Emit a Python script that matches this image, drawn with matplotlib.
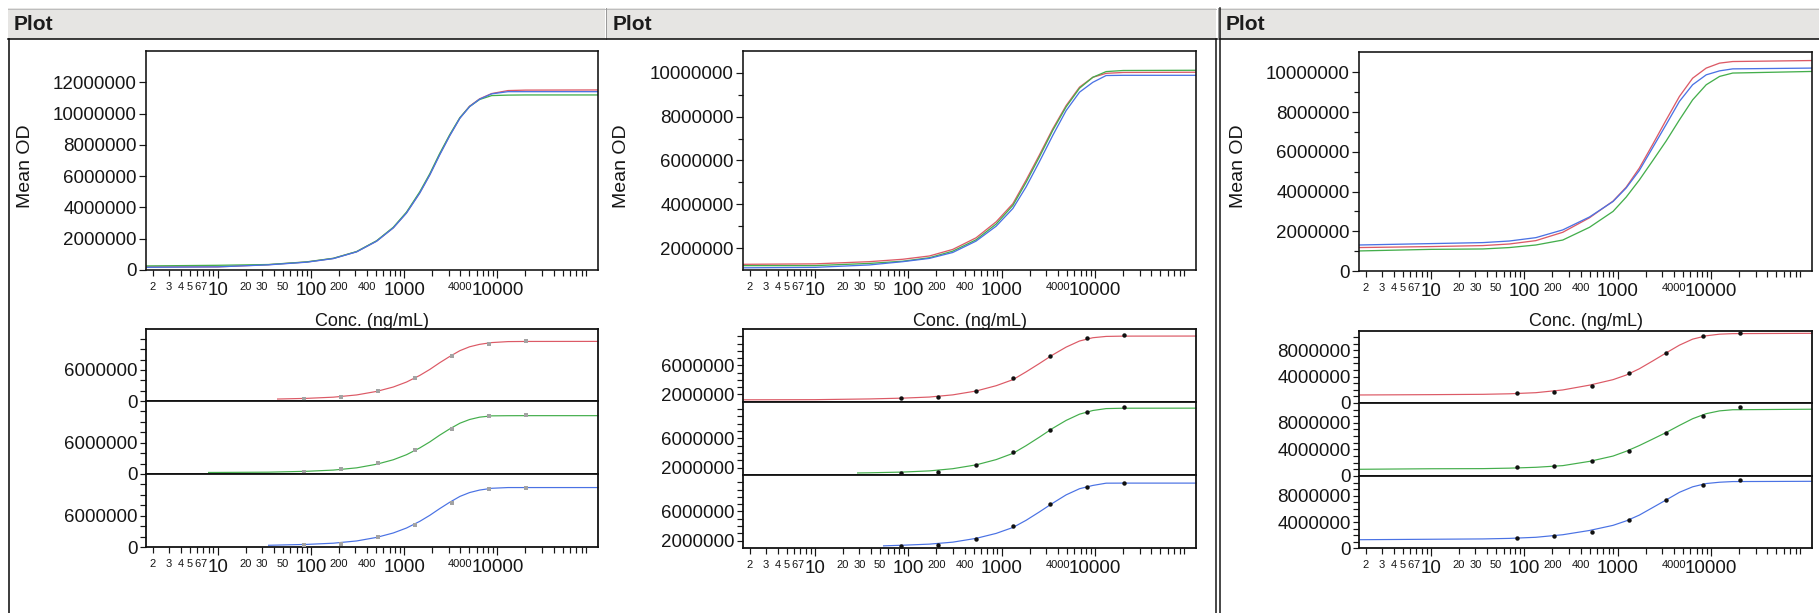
import numpy as np
import matplotlib
matplotlib.use("Agg")
import matplotlib.pyplot as plt
from matplotlib.patches import Rectangle
from matplotlib.lines import Line2D
from matplotlib.ticker import FixedLocator, FuncFormatter

plt.rcParams['font.family'] = ['Liberation Sans', 'DejaVu Sans']

MILLION = 1e6

# ---------------- data (Mean OD in millions, conc in ng/mL) ----------------
STD_CONC = [83.9, 209.7, 524.3, 1310.7, 3276.8, 8192.0, 20480.0]

# Panel 1
P1_CURVE_X = [1.7, 10, 35, 90, 174, 309, 506, 764, 1059, 1470, 1885, 2400, 3080,
              3960, 5030, 6440, 8680, 13000, 20000, 120000]
P1_RED_CURVE = [0.20, 0.20, 0.34, 0.51, 0.74, 1.17, 1.85, 2.70, 3.66, 4.94, 6.10, 7.38,
                8.60, 9.72, 10.47, 10.94, 11.28, 11.47, 11.50, 11.51]
P1_GREEN_CURVE = [0.26, 0.30, 0.35, 0.52, 0.75, 1.18, 1.87, 2.73, 3.70, 5.00, 6.16, 7.44,
                  8.65, 9.74, 10.45, 10.90, 11.15, 11.18, 11.19, 11.19]
P1_BLUE_CURVE = [0.17, 0.20, 0.33, 0.50, 0.73, 1.16, 1.84, 2.69, 3.64, 4.92, 6.08, 7.35,
                 8.58, 9.70, 10.44, 10.92, 11.26, 11.40, 11.40, 11.40]
P1_RED_POINTS = [0.40, 0.80, 1.90, 4.50, 8.60, 11.10, 11.60]
P1_GREEN_POINTS = [0.45, 0.90, 2.10, 4.55, 8.70, 11.05, 11.25]
P1_BLUE_POINTS = [0.35, 0.65, 1.85, 4.30, 8.40, 11.10, 11.40]
P1_SUB_START = [43, 7.9, 35]

# Panel 2
P2_CURVE_X = [1.7, 10, 38, 87, 168, 299, 531, 871, 1316, 1820, 2520, 3520, 4890, 6800,
              9440, 13100, 20000, 120000]
P2_RED_CURVE = [1.26, 1.28, 1.38, 1.49, 1.64, 1.94, 2.47, 3.20, 4.03, 5.10, 6.24, 7.45,
                8.51, 9.35, 9.80, 9.98, 10.02, 10.03]
P2_GREEN_CURVE = [1.20, 1.20, 1.30, 1.40, 1.56, 1.86, 2.38, 3.10, 3.95, 5.00, 6.15, 7.38,
                  8.45, 9.30, 9.80, 10.06, 10.11, 10.12]
P2_BLUE_CURVE = [1.10, 1.12, 1.23, 1.38, 1.53, 1.80, 2.32, 3.00, 3.81, 4.79, 5.93, 7.15,
                 8.28, 9.12, 9.57, 9.88, 9.89, 9.89]
P2_RED_POINTS = [1.51, 1.69, 2.47, 4.32, 7.31, 9.76, 10.17]
P2_GREEN_POINTS = [1.32, 1.46, 2.34, 4.09, 7.13, 9.57, 10.22]
P2_BLUE_POINTS = [1.28, 1.46, 2.29, 4.04, 7.04, 9.29, 9.89]
P2_SUB_START = [1.7, 28, 53]

# Panel 3
P3_CURVE_X = [1.7, 10, 36, 69, 133, 258, 498, 890, 1230, 1700, 2370, 3300, 4570, 6330,
              8850, 12300, 17000, 120000]
P3_RED_CURVE = [1.18, 1.23, 1.28, 1.36, 1.53, 1.95, 2.68, 3.52, 4.22, 5.18, 6.38, 7.61,
                8.79, 9.71, 10.22, 10.47, 10.55, 10.60]
P3_GREEN_CURVE = [1.01, 1.09, 1.11, 1.18, 1.31, 1.56, 2.20, 3.00, 3.72, 4.58, 5.56, 6.55,
                  7.61, 8.62, 9.38, 9.80, 9.97, 10.05]
P3_BLUE_CURVE = [1.31, 1.38, 1.43, 1.51, 1.68, 2.07, 2.72, 3.50, 4.18, 5.06, 6.22, 7.38,
                 8.54, 9.38, 9.88, 10.08, 10.18, 10.22]
P3_RED_POINTS = [1.47, 1.67, 2.58, 4.55, 7.64, 10.12, 10.58]
P3_GREEN_POINTS = [1.32, 1.52, 2.23, 3.74, 6.53, 9.06, 10.32]
P3_BLUE_POINTS = [1.62, 1.87, 2.53, 4.30, 7.39, 9.62, 10.37]
P3_SUB_START = [1.7, 1.7, 1.7]

# axis ticks / labels
X_DECADE_TICKS = [10, 100, 1000, 10000]
X_SMALL_LABELS = [2, 3, 4, 5, 6, 7, 20, 30, 50, 200, 400, 4000]
X_MINOR_TICKS = [m * 10 ** e for e in range(0, 5) for m in range(2, 10)]

P1_YLIM = (0, 14.0)
P2_YLIM = (1.0, 11.0)
P3_YLIM = (0, 11.03)
P1_Y_MAJOR = [0, 2, 4, 6, 8, 10, 12]
P1_Y_MINOR = []
P2_Y_MAJOR = [2, 4, 6, 8, 10]
P2_Y_MINOR = [3, 5, 7, 9]
P3_Y_MAJOR = [0, 2, 4, 6, 8, 10]
P3_Y_MINOR = [1, 3, 5, 7, 9]
P1_SUB_TICKS = [0, 2, 4, 6, 8, 10, 12]
P1_SUB_LABELED = [0, 6]
P2_SUB_TICKS = [2, 3, 4, 5, 6, 7, 8, 9, 10]
P2_SUB_LABELED = [2, 6]
P3_SUB_TICKS = [0, 1, 2, 3, 4, 5, 6, 7, 8, 9, 10]
P3_SUB_LABELED = [0, 4, 8]

HEADER_TITLE = "Plot"
Y_LABEL = "Mean OD"
X_LABEL = "Conc. (ng/mL)"

# ---------------- style / layout ----------------
W, H = 1819, 613
XLIM = (1.7, 1.2e5)
COLORS = ['#DC5A66', '#44AE4C', '#4A72E4']
TXT = '#161616'
PX = 0.72  # points per pixel at 100 dpi
TICK_FS = 13.5

fig = plt.figure(figsize=(W / 100, H / 100), dpi=100)
fig.patch.set_facecolor('white')


def fx(x):
    return x / W


def fy(y):
    return 1 - y / H


def add_rect(x0, y0, x1, y1, **kw):
    fig.patches.append(Rectangle((fx(x0), fy(y1)), (x1 - x0) / W, (y1 - y0) / H,
                                 transform=fig.transFigure, **kw))


def add_line(xs, ys, **kw):
    fig.add_artist(Line2D([fx(x) for x in xs], [fy(y) for y in ys],
                          transform=fig.transFigure, **kw))


def px_axes(x0, y0, x1, y1):
    return fig.add_axes([fx(x0), fy(y1), (x1 - x0) / W, (y1 - y0) / H])


# headers and frames
HEADERS = [(8, 605), (606.5, 1216), (1220, 1819)]
for (hx0, hx1) in HEADERS:
    add_rect(hx0, 8, hx1, 38.5, facecolor='#E6E5E3', edgecolor='none', zorder=-5)
    add_line([hx0, hx1], [8.5, 8.5], color='#BDBDBD', lw=1 * PX, zorder=-4)
    fig.text(fx(hx0 + 6), fy(24), HEADER_TITLE, fontsize=15, fontweight='bold',
             color='#1c1c1c', ha='left', va='center')
add_line([605.5, 605.5], [8, 38.5], color='#9A9A9A', lw=1 * PX)
add_line([1217.5, 1217.5], [8, 38.5], color='#9A9A9A', lw=1 * PX)
add_line([8, 1216.5], [39.3, 39.3], color='#111111', lw=1.6 * PX)
add_line([1219.5, 1819], [39.3, 39.3], color='#111111', lw=1.6 * PX)
add_line([8.7, 8.7], [39, 613], color='#111111', lw=1.6 * PX)
add_line([1216, 1216], [39, 613], color='#111111', lw=1.5 * PX)
add_line([1219.5, 1219.5], [8, 613], color='#111111', lw=1.5 * PX)

PANELS = [
    dict(top=(146, 51, 598, 270),
         subs=[(146, 328.5, 598, 401), (146, 401, 598, 474), (146, 474, 598, 547)],
         ylab_x=25, ylim=P1_YLIM, ymaj=P1_Y_MAJOR, ymin=P1_Y_MINOR,
         sticks=P1_SUB_TICKS, slab=P1_SUB_LABELED,
         cx=P1_CURVE_X, curves=[P1_RED_CURVE, P1_GREEN_CURVE, P1_BLUE_CURVE],
         pts=[P1_RED_POINTS, P1_GREEN_POINTS, P1_BLUE_POINTS], start=P1_SUB_START,
         mk=dict(marker='s', ms=2.6, color='#A3A3A3')),
    dict(top=(743, 51, 1196, 270),
         subs=[(743, 329, 1196, 401.7), (743, 401.7, 1196, 475), (743, 475, 1196, 548)],
         ylab_x=621, ylim=P2_YLIM, ymaj=P2_Y_MAJOR, ymin=P2_Y_MINOR,
         sticks=P2_SUB_TICKS, slab=P2_SUB_LABELED,
         cx=P2_CURVE_X, curves=[P2_RED_CURVE, P2_GREEN_CURVE, P2_BLUE_CURVE],
         pts=[P2_RED_POINTS, P2_GREEN_POINTS, P2_BLUE_POINTS], start=P2_SUB_START,
         mk=dict(marker='o', ms=3.2, color='#111111')),
    dict(top=(1359, 52, 1812, 271),
         subs=[(1359, 330.5, 1812, 402.7), (1359, 402.7, 1812, 476), (1359, 476, 1812, 548.3)],
         ylab_x=1238, ylim=P3_YLIM, ymaj=P3_Y_MAJOR, ymin=P3_Y_MINOR,
         sticks=P3_SUB_TICKS, slab=P3_SUB_LABELED,
         cx=P3_CURVE_X, curves=[P3_RED_CURVE, P3_GREEN_CURVE, P3_BLUE_CURVE],
         pts=[P3_RED_POINTS, P3_GREEN_POINTS, P3_BLUE_POINTS], start=P3_SUB_START,
         mk=dict(marker='o', ms=3.2, color='#111111')),
]


def style_x(ax, show):
    ax.set_xscale('log')
    ax.set_xlim(*XLIM)
    ax.xaxis.set_major_locator(FixedLocator(X_DECADE_TICKS))
    ax.xaxis.set_minor_locator(FixedLocator(X_MINOR_TICKS))
    if show:
        ax.xaxis.set_major_formatter(FuncFormatter(lambda v, p: f"{v:.0f}"))
        ax.xaxis.set_minor_formatter(FuncFormatter(
            lambda v, p: f"{v:.0f}" if int(round(v)) in X_SMALL_LABELS else ""))
        ax.tick_params(axis='x', which='major', length=8 * PX, width=1.2 * PX,
                       labelsize=TICK_FS, pad=4 * PX, direction='out', colors=TXT)
        ax.tick_params(axis='x', which='minor', length=5.5 * PX, width=1.2 * PX,
                       labelsize=8, pad=6.5 * PX, direction='out', colors=TXT)
    else:
        ax.tick_params(axis='x', which='both', bottom=False, labelbottom=False)


def style_frame(ax, lw):
    for s in ax.spines.values():
        s.set_linewidth(lw * PX)
        s.set_color('#111111')
    ax.set_facecolor('white')


fmt_int = FuncFormatter(lambda v, p: f"{v * MILLION:.0f}")

for P in PANELS:
    # ---- overlay plot ----
    ax = px_axes(*P['top'])
    style_frame(ax, 1.6)
    for cy, col in zip(P['curves'], COLORS):
        ax.plot(P['cx'], cy, color=col, lw=1.3 * PX, solid_capstyle='butt')
    style_x(ax, True)
    ax.set_ylim(*P['ylim'])
    ax.yaxis.set_major_locator(FixedLocator(P['ymaj']))
    ax.yaxis.set_minor_locator(FixedLocator(P['ymin']))
    ax.yaxis.set_major_formatter(fmt_int)
    ax.tick_params(axis='y', which='major', length=7 * PX, width=1.2 * PX,
                   labelsize=TICK_FS, pad=2.5 * PX, direction='out', colors=TXT)
    ax.tick_params(axis='y', which='minor', length=5 * PX, width=1.2 * PX,
                   direction='out', colors=TXT)
    x0, y0, x1, y1 = P['top']
    fig.text(fx(P['ylab_x']), fy(166), Y_LABEL, rotation=90, fontsize=14,
             ha='center', va='center', color=TXT)
    fig.text(fx((x0 + x1) / 2), fy(321), X_LABEL, fontsize=13, ha='center',
             va='center', color=TXT, zorder=-1)

    # ---- individual plots ----
    for i, (rect, cy, py, col, st) in enumerate(zip(P['subs'], P['curves'], P['pts'],
                                                    COLORS, P['start'])):
        sax = px_axes(*rect)
        style_frame(sax, 1.8)
        line, = sax.plot(P['cx'], cy, color=col, lw=1.2 * PX)
        clip = Rectangle((st, -100), 1e7, 200, transform=sax.transData)
        line.set_clip_path(clip)
        sax.plot(STD_CONC, py, linestyle='none', markeredgewidth=0, zorder=3, **P['mk'])
        style_x(sax, i == 2)
        sax.set_ylim(*P['ylim'])
        sax.yaxis.set_major_locator(FixedLocator(P['sticks']))
        labeled = P['slab']
        sax.yaxis.set_major_formatter(FuncFormatter(
            lambda v, p, labeled=labeled: f"{v * MILLION:.0f}" if int(round(v)) in labeled else ""))
        sax.tick_params(axis='y', which='major', length=6 * PX, width=1.2 * PX,
                        labelsize=TICK_FS, pad=2.5 * PX, direction='out', colors=TXT)

fig.savefig('out.png', dpi=100, facecolor='white')
